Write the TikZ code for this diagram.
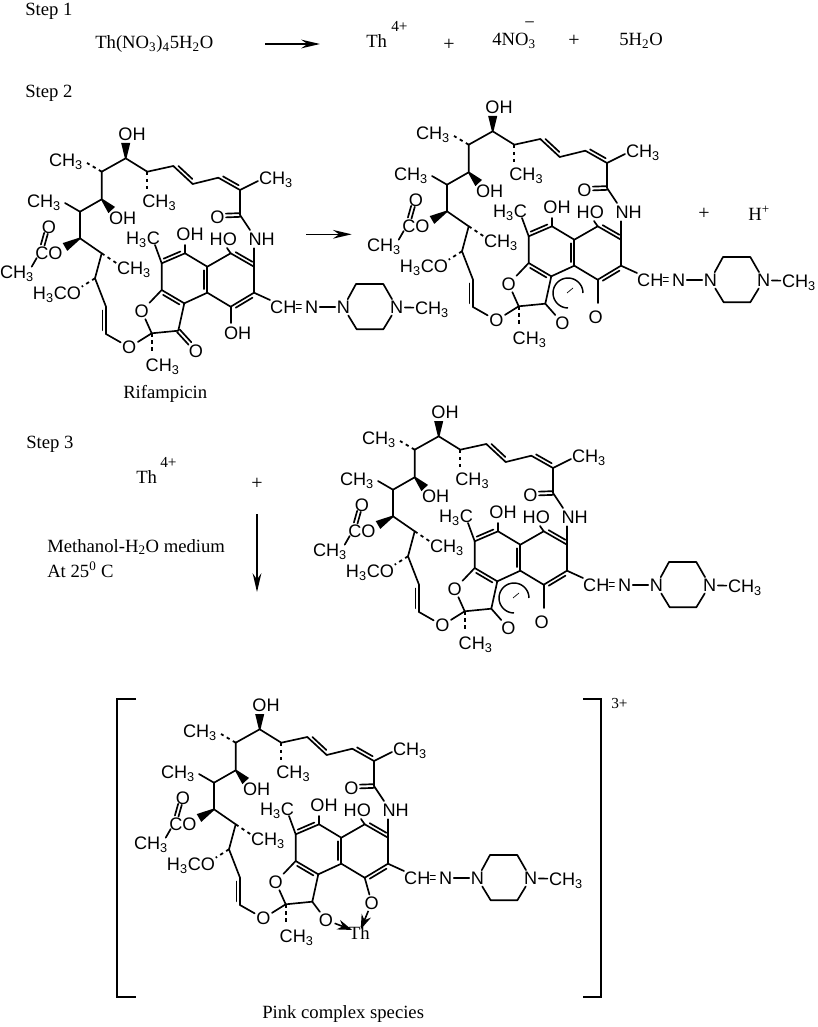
\documentclass[tikz,border=0pt]{standalone}
\usepackage{fontspec}
\setmainfont{Liberation Serif}
\setsansfont{Liberation Sans}
\usetikzlibrary{arrows.meta,calc}

\tikzset{
	bond/.style={line width=1.25pt,line cap=round,line join=round},
	hashbond/.style={line width=1.35pt,dash pattern={on 2.5pt off 2.8pt}},
	rxnarrow/.style={line width=1.1pt,-{Stealth[length=14pt,width=6.5pt]}},
	atom/.style={font=\sffamily\fontsize{13.6}{15}\selectfont,inner sep=0pt,outer sep=1.2pt,text height=9.8pt,text depth=0pt},
	txt/.style={font=\fontsize{14}{16}\selectfont,inner sep=0pt,anchor=base west},
	supertxt/.style={font=\fontsize{11.5}{13}\selectfont,inner sep=0pt,anchor=base west},
	sign/.style={font=\fontsize{15}{17}\selectfont,inner sep=0pt},
	metalarrow/.style={line width=1.2pt,shorten >=-2.5pt,-{Stealth[length=11pt,width=7.5pt]}}
}

% ring double bond: full line and a shorter one beside it
\newcommand{\dbond}[3]{
	\draw[bond] (#1) -- (#2);
	\draw[bond] ($(#1)!.14!(#2)!#3pt!90:(#2)$) -- ($(#2)!.14!(#1)!#3pt!-90:(#1)$);
}
% two equal lines
\newcommand{\cbond}[2]{
	\draw[bond] ($(#1)!1.4pt!90:(#2)$) -- ($(#2)!1.4pt!-90:(#1)$);
	\draw[bond] ($(#1)!1.4pt!-90:(#2)$) -- ($(#2)!1.4pt!90:(#1)$);
}
\newcommand{\wedgebond}[2]{
	\fill ($(#1)!.6pt!90:(#2)$) -- ($(#1)!.6pt!-90:(#2)$) -- ($(#2)!3.4pt!90:(#1)$) -- ($(#2)!3.4pt!-90:(#1)$) -- cycle;
}

% the part all four molecules share
\newcommand{\ansachain}{
	\foreach \nm/\px/\py in {c1/125.7/158.3,c2/101.7/171.7,c3/101.7/199.3,c4/80/211.7,c5/80/238.3,
		c6/101.7/253.3,c7/95/278.3,c8/106/306.7,c9/106/334,
		e1/147.3/171.7,e2/173.3/166,e3/192.7/184,e4/218.3/177.7,e5/240/190,e6/240/215,
		r1/161.7/263.3,r2/185/253.3,r3/207.3/266.7,r4/230.7/253.3,r5/254/266.7,r6/254/292.7,
		r7/230.7/306.7,r8/207.3/292.7,r9/184.3/303.3,r10/161.7/290,f1/178.3/330.7,f2/151.7/333.3,
		tipa/125.7/143,tipb/111.7/210,tipc/65/247,
		hasha/87/163,hashb/116.7/263.3,hashc/81.7/286.7,hashd/147.3/190,hashe/151.7/353,
		enda/65/203,endb/258/181,endc/250/230,endd/254/248.3,ende/155/245,endf/185/245,
		endg/227/248,endh/270/300,endi/36.7/258,endj/31.7/266.7,endk/42.7/245,endl/46/233.3,
		endo/226/215.5,
		pa/356/284,pb/383.3/284,pc/383.3/329.3,pd/356.7/329.3}
		\coordinate (\nm) at (\px,\py);
	% labels
	\node[atom] (ohtop) at (132,134) {OH};
	\node[atom] (mea) at (66,160) {CH\textsubscript{3}};
	\node[atom] (ohmid) at (122.7,218) {OH};
	\node[atom] (meb) at (44,200.7) {CH\textsubscript{3}};
	\node[atom] (co) at (49,253) {CO};
	\node[atom] (oxa) at (49,226.7) {O};
	\node[atom] (mec) at (17,272) {CH\textsubscript{3}};
	\node[atom] (med) at (134,268) {CH\textsubscript{3}};
	\node[atom] (meo) at (57,293) {H\textsubscript{3}CO};
	\node[atom] (mee) at (159.3,200.7) {CH\textsubscript{3}};
	\node[atom] (mef) at (276,178) {CH\textsubscript{3}};
	\node[atom] (oxb) at (217.3,216.7) {O};
	\node[atom] (nh) at (261.7,239) {NH};
	\node[atom] (meg) at (143,238) {H\textsubscript{3}C};
	\node[atom] (ohar) at (190,234) {OH};
	\node[atom] (hoar) at (223.3,239.3) {HO};
	\node[atom] (oxc) at (129.3,347.3) {O};
	\node[atom] (oxd) at (141.7,311) {O};
	\node[atom] (meh) at (162.7,365) {CH\textsubscript{3}};
	\node[atom] (ch) at (283.3,307.3) {CH};
	\node[atom] (nimine) at (311.7,307.3) {N};
	\node[atom] (pna) at (343.3,307.3) {N};
	\node[atom] (pnb) at (396.7,307.3) {N};
	\node[atom] (mei) at (432,308) {CH\textsubscript{3}};
	\coordinate (eqa) at (296.5,306.5);
	\coordinate (eqb) at (301,306.5);
	% chain
	\draw[bond] (e1) -- (c1) -- (c2) -- (c3) -- (c4) -- (c5) -- (c6) -- (c7) -- (c8);
	\dbond{c8}{c9}{2.6}
	\draw[bond] (c9) -- (oxc) -- (f2);
	\draw[bond] (e1) -- (e2);
	\dbond{e2}{e3}{-2.6}
	\draw[bond] (e3) -- (e4);
	\dbond{e4}{e5}{-2.6}
	\draw[bond] (e5) -- (e6) -- (endc);
	\draw[bond] (e5) -- (endb);
	\cbond{e6}{endo}
	\draw[bond] (c4) -- (enda);
	\wedgebond{c1}{tipa}
	\wedgebond{c3}{tipb}
	\wedgebond{c5}{tipc}
	\draw[hashbond] (c2) -- (hasha);
	\draw[hashbond] (c6) -- (hashb);
	\draw[hashbond] (c7) -- (hashc);
	\draw[hashbond] (e1) -- (hashd);
	\draw[hashbond] (f2) -- (hashe);
	% acetate
	\draw[bond] (endi) -- (endj);
	\cbond{endk}{endl}
	% rings
	\draw[bond] (r1) -- (r10) -- (oxd) -- (f2) -- (f1) -- (r9) -- (r8);
	\dbond{r10}{r9}{2.6}
	\dbond{r1}{r2}{-2.6}
	\draw[bond] (r2) -- (r3) -- (r4);
	\dbond{r8}{r3}{-2.6}
	\dbond{r4}{r5}{-2.6}
	\draw[bond] (r5) -- (r6);
	\dbond{r6}{r7}{-2.6}
	\draw[bond] (r7) -- (r8);
	\draw[bond] (r1) -- (ende);
	\draw[bond] (r2) -- (endf);
	\draw[bond] (r4) -- (endg);
	\draw[bond] (r5) -- (endd);
	\draw[bond] (r6) -- (endh);
	% side chain
	\cbond{eqa}{eqb}
	\draw[bond] (nimine) -- (pna);
	\draw[bond] (pna) -- (pa) -- (pb) -- (pnb) -- (pc) -- (pd) -- (pna);
	\draw[bond] (pnb) -- (mei);
}
% enolate end used twice
\newcommand{\enolateend}{
	\node[atom] (oxe) at (195.5,350.2) {O};
	\node[atom] (oxf) at (228.7,343.7) {O};
	\coordinate (endm) at (230.7,330);
	\coordinate (spin) at (201,320);
	\coordinate (ticka) at (200,320);
	\coordinate (tickb) at (206,315);
	\draw[bond] (f1) -- (oxe);
	\draw[bond] (r7) -- (endm);
	\draw[line width=1.1pt] ($(spin)+(15,0)$) arc[start angle=0,end angle=-270,radius=15];
	\draw[line width=.5pt] (ticka) -- (tickb);
}

\begin{document}
\begin{tikzpicture}[x=0.75pt,y=0.75pt,yscale=-1,xscale=1]
	\useasboundingbox (0,0) rectangle (817,1027);

	% step 1
	\node[txt] (stepa) at (25,16) {Step 1};
	\node[txt] (salt) at (95,49) {Th(NO\textsubscript{3})\textsubscript{4}5H\textsubscript{2}O};
	\coordinate (arra) at (265,44);
	\coordinate (arrb) at (320,44);
	\draw[rxnarrow] (arra) -- (arrb);
	\node[txt] (tha) at (366,48) {Th};
	\node[supertxt] (thachg) at (391,32) {4+};
	\node[sign] (plusa) at (449,45) {+};
	\node[txt] (nitrate) at (492,46) {4NO\textsubscript{3}};
	\node[txt] (nitchg) at (524,28.6) {\textminus};
	\node[sign] (plusb) at (574,41) {+};
	\node[txt] (water) at (619,46) {5H\textsubscript{2}O};

	% step 2
	\node[txt] (stepb) at (25,98) {Step 2};
	\ansachain
	\node[atom] (ohlow) at (237.7,332.7) {OH};
	\node[atom] (oxk) at (196,350.7) {O};
	\coordinate (endn) at (230.7,323);
	\coordinate (endp) at (190,343.5);
	\draw[bond] (r7) -- (endn);
	\cbond{f1}{endp}
	\node[txt] (rif) at (123,398) {Rifampicin};
	\coordinate (arrc) at (306,234.3);
	\coordinate (arrd) at (351.7,234.3);
	\draw[rxnarrow] (arrc) -- (arrd);
	\begin{scope}[shift={(367,-27)}]
		\ansachain
		\enolateend
	\end{scope}
	\node[sign] (plusc) at (704,214) {+};
	\node[txt] (proton) at (748,220) {H\textsuperscript{+}};

	% step 3
	\node[txt] (stepc) at (26,448) {Step 3};
	\node[txt] (thb) at (136,483) {Th};
	\node[supertxt] (thbchg) at (160,467) {4+};
	\node[sign] (plusd) at (257,484) {+};
	\coordinate (arre) at (257,514);
	\coordinate (arrf) at (257,592);
	\draw[rxnarrow] (arre) -- (arrf);
	\node[txt] (medium) at (47,552) {Methanol-H\textsubscript{2}O medium};
	\node[txt] (temp) at (47,577) {At 25\textsuperscript{0} C};
	\begin{scope}[shift={(313,278)}]
		\ansachain
		\enolateend
	\end{scope}

	% complex
	\begin{scope}[shift={(134,571)}]
		\ansachain
		\node[atom] (oxg) at (192,349) {O};
		\node[atom] (oxh) at (237.7,331.7) {O};
		\node[font=\fontsize{14}{16}\selectfont,inner sep=0pt,outer sep=0pt] (thc) at (225.3,361.7) {Th};
		\draw[bond] (f1) -- (oxg);
		\draw[bond] (r7) -- (oxh);
		\draw[metalarrow] (oxg) -- (thc);
		\draw[metalarrow] (oxh) -- (thc);
	\end{scope}
	\coordinate (bla) at (136,699);
	\coordinate (blb) at (117,699);
	\coordinate (blc) at (117,997);
	\coordinate (bld) at (136,997);
	\coordinate (bra) at (583,699);
	\coordinate (brb) at (601,699);
	\coordinate (brc) at (601,997);
	\coordinate (brd) at (583,997);
	\draw[line width=1.2pt] (bla) -- (blb) -- (blc) -- (bld);
	\draw[line width=1.2pt] (bra) -- (brb) -- (brc) -- (brd);
	\node[supertxt] (cplxchg) at (611,708) {3+};
	\node[txt] (pink) at (262,1018) {Pink complex species};
\end{tikzpicture}
\end{document}
